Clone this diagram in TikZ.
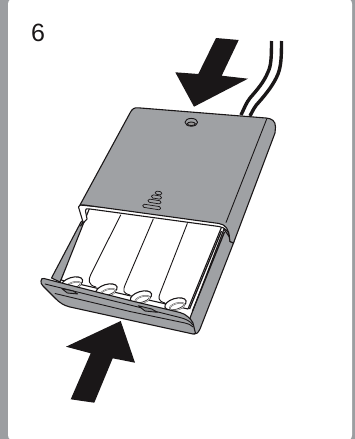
\documentclass[tikz,border=0pt]{standalone}
\usepackage{fontspec}
\setmainfont{Liberation Sans}
\definecolor{panelgrey}{HTML}{9C9EA1}
\definecolor{bodygrey}{HTML}{9FA1A4}
\definecolor{inkblack}{HTML}{1A1718}
\tikzset{
  outline/.style={draw=inkblack,line width=1.1pt,line join=round,line cap=round},
  fineline/.style={draw=inkblack,line width=0.9pt,line join=round,line cap=round},
  greypart/.style={outline,fill=bodygrey},
  whitepart/.style={outline,fill=white},
  bigarrow/.style={fill=inkblack,draw=none},
  wire/.style={draw=inkblack,line width=3.4pt},
  ridge/.style={draw=inkblack,line width=0.7pt,fill=bodygrey,rounded corners=1.4pt,inner sep=0pt,minimum height=3.2pt,rotate=-9}
}
\begin{document}
\begin{tikzpicture}[x=1pt,y=-1pt]
\useasboundingbox (0,0) rectangle (355,439);
% panel
\fill[panelgrey] (0,0) rectangle (355,439);
\fill[white,rounded corners=6pt] (8,-2) rectangle (352,441);
\node[font=\fontsize{25}{25}\selectfont,text=inkblack,inner sep=0pt] (num) at (38,33) {6};
% wires
\draw[wire] (271.5,41) .. controls (271.5,58) and (271,66) .. (268,72) .. controls (264,82) and (257,90) .. (250,98) .. controls (246,103) and (244,109) .. (241,115);
\draw[wire] (281.5,41) .. controls (281.5,58) and (281,66) .. (278,74) .. controls (274,84) and (266,94) .. (259,102) .. controls (255,106) and (253,110) .. (250,116);
% top arrow
\fill[bigarrow] (216,38) -- (238.7,40) -- (221.7,75.7) -- (248,78.7) -- (194,106.7) -- (175.3,72.3) -- (198.3,74) -- cycle;
% left rail (behind batteries)
\path[greypart] (81,222) -- (51.5,278) -- (60,282) -- (92,212) -- cycle;
% right rail
\path[greypart] (224,229) -- (233.5,243) -- (200,329) .. controls (198,333) and (196,334.5) .. (194,334) -- (190,318) -- cycle;
% batteries
\path[whitepart] (90,207) -- (222,226) -- (188,309) -- (61,280) -- cycle;
\draw[fineline] (120.7,215) -- (91,274) .. controls (88,280) and (88,285) .. (96,287);
\draw[fineline] (153.3,219) -- (125.5,284) .. controls (122.5,291) and (123,293) .. (130,295);
\draw[fineline] (187.3,223.5) -- (160.5,292) .. controls (158,298) and (158,301) .. (165,303);
% rail black double line
\draw[inkblack,line width=1.3pt] (224.5,232) -- (192.5,311);
\draw[inkblack,line width=1.3pt] (221.5,231) -- (189.5,309);
% battery ends
\foreach \n/\cx/\cy in {a/72/283,b/106.5/290,c/141/297,d/175.5/304}{
  \path[whitepart,rotate around={17:(\cx,\cy)}] (\cx,\cy) ellipse [x radius=11,y radius=5.5];
  \draw[inkblack!70,line width=1.5pt,rotate around={17:(\cx+1.5,\cy+2.5)}] (\cx+1.5,\cy+2.5) ellipse [x radius=7.5,y radius=3.2];
  \draw[white,line width=0.4pt,rotate around={17:(\cx+1.5,\cy+2.5)}] (\cx+1.5,\cy+2.5) ellipse [x radius=7.5,y radius=3.2];
}
% front plate
\path[greypart] (41,281) .. controls (41,279) and (42,278) .. (44,278.5) -- (130,300.5) -- (180,312.5) .. controls (186,314) and (191,319) .. (193,323) -- (195.5,333.5) -- (193,334) -- (70,307) .. controls (64,305.5) and (60,303) .. (56,299) -- (43,286) .. controls (41,284) and (41,283) .. (41,281) -- cycle;
\draw[fineline] (45,284) -- (130,305) -- (140,307.5) -- (180,317.5) .. controls (186,319) and (190,321) .. (193,325);
\draw[fineline] (55,293.5) -- (130,311.5) -- (185,323) .. controls (188,323.5) and (190,324.5) .. (193,327);
\path[fineline,fill=bodygrey!85!black] (61.7,288.5) -- (73.3,291) -- (77.7,294) -- (67.3,293) -- cycle;
\path[fineline,fill=bodygrey!85!black] (138.3,305.7) -- (151.7,309) -- (157.3,312.3) -- (145,311) -- cycle;
% lid with white lip
\path[whitepart] (80,205) -- (78.5,207) -- (83,222) -- (80.5,226) -- (87,219) -- (85.5,211) .. controls (85,209) and (86,208.5) .. (90,209) -- (219,226.5) .. controls (225,227.5) and (228,231) .. (229,235) -- (230,241.5) -- (233.5,243) -- (236,220) -- cycle;
\path[greypart] (80,205) -- (130,113) .. controls (132,109) and (134,107.5) .. (138,107.8) -- (266,118) .. controls (272,118.5) and (275.5,121) .. (275.5,127) -- (275,133) -- (233.5,243) -- (230,241.5) -- (229.5,238) .. controls (229,230) and (226,224.5) .. (219,223.5) -- (88,205.5) .. controls (84,205) and (82,204.5) .. (80,205) -- cycle;
\draw[fineline] (266.7,119) -- (226,222.5);
% hole
\path[fineline,fill=bodygrey] (191.3,122.3) ellipse [x radius=6.3,y radius=3.9];
\path[draw=inkblack,line width=0.9pt,fill=inkblack!45] (191.3,123.8) ellipse [x radius=4,y radius=1.8];
% ridges
\node[ridge,minimum width=18pt] (r1) at (151.7,207) {};
\node[ridge,minimum width=13pt] (r2) at (154.5,201.5) {};
\node[ridge,minimum width=10pt] (r3) at (156.5,197) {};
\node[ridge,minimum width=6.5pt] (r4) at (158.5,193) {};
% bottom arrow
\fill[bigarrow] (120.7,321) -- (135,362.7) -- (112.7,358.3) -- (94.3,402.7) -- (70.7,399.3) -- (90.7,353.3) -- (66,346.7) -- cycle;
\end{tikzpicture}
\end{document}
